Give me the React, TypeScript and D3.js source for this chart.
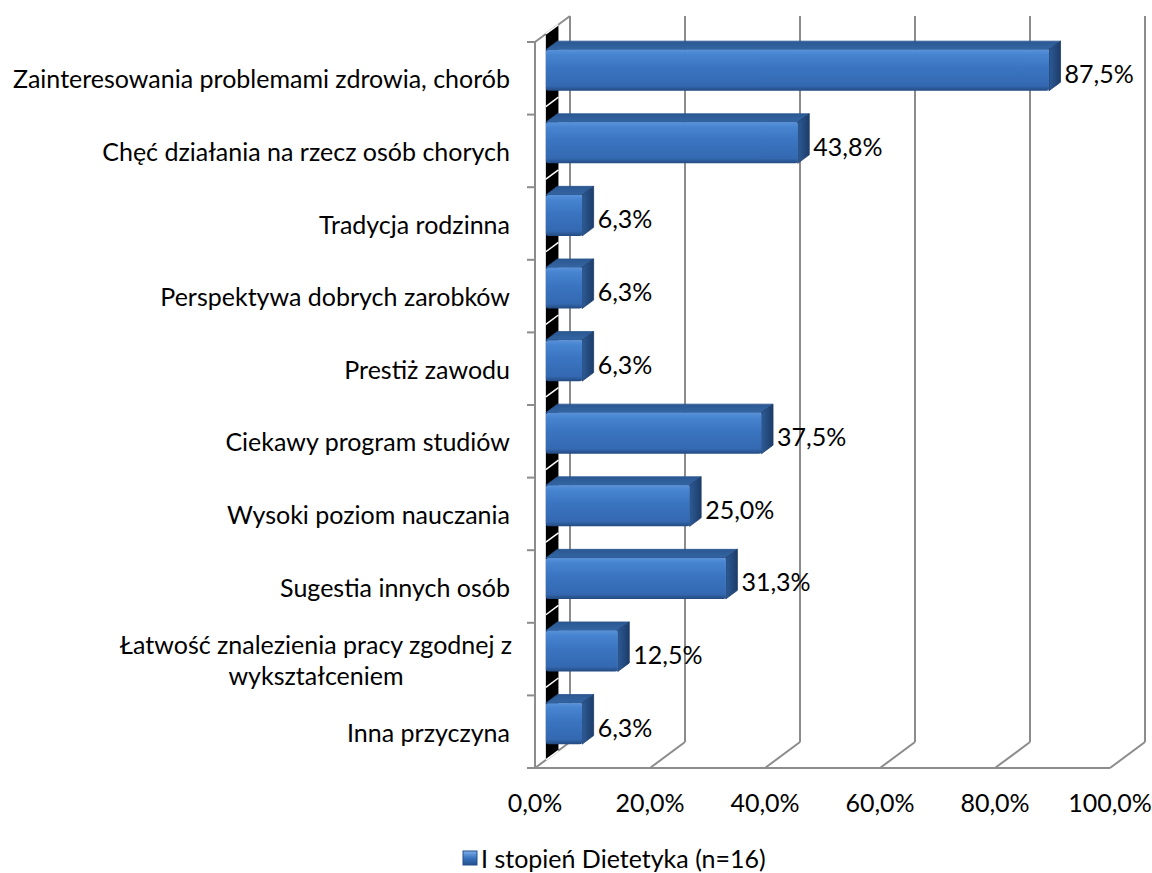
import React from 'react';
import * as d3 from 'd3';

// chart data
const categories = [
  'Zainteresowania problemami zdrowia, chorób',
  'Chęć działania na rzecz osób chorych',
  'Tradycja rodzinna',
  'Perspektywa dobrych zarobków',
  'Prestiż zawodu',
  'Ciekawy program studiów',
  'Wysoki poziom nauczania',
  'Sugestia innych osób',
  'Łatwość znalezienia pracy zgodnej z\nwykształceniem',
  'Inna przyczyna',
];
const values = [87.5, 43.8, 6.3, 6.3, 6.3, 37.5, 25.0, 31.3, 12.5, 6.3];
const xTicks = [0, 20, 40, 60, 80, 100];
const seriesName = 'I stopień Dietetyka (n=16)';

const W = 1152;
const H = 873;
const FONT = 'Lato, "Open Sans", sans-serif';
const FS = 25;

// oblique depth of the 3D box
const DX = 35;
const DY = 26;
const D1 = 0.31; // front of the bar slot
const D2 = 0.64; // back of the bar slot

const fmt = (v: number) => v.toFixed(1).replace('.', ',') + '%';

export default function App() {
  const x = d3.scaleLinear().domain([0, 100]).range([535, 1110]);
  const y = d3.scaleBand<string>().domain(categories).range([42, 768])
    .paddingInner(0.435).paddingOuter(0.2175);
  const step = y.step();
  const top = 42;
  const bottom = 768;
  const x0 = x(0);
  const grid = '#8c8c8c';

  const proj = (px: number, py: number, d: number): [number, number] => [px + DX * d, py - DY * d];
  const poly = (pts: [number, number][]) => pts.map(p => p.join(',')).join(' ');

  return (
    <svg width={W} height={H} style={{ display: 'block', position: 'absolute', left: 0, top: 0 }}>
      <defs>
        <linearGradient id="front" x1="0" y1="0" x2="0" y2="1">
          <stop offset="0" stopColor="#5892d9" />
          <stop offset="0.12" stopColor="#4784d0" />
          <stop offset="0.45" stopColor="#3a74c0" />
          <stop offset="0.88" stopColor="#3469b1" />
          <stop offset="1" stopColor="#234a80" />
        </linearGradient>
        <linearGradient id="topf" x1="0" y1="1" x2="0" y2="0">
          <stop offset="0" stopColor="#3466a3" />
          <stop offset="1" stopColor="#2b5892" />
        </linearGradient>
        <linearGradient id="side" x1="0" y1="0" x2="1" y2="0">
          <stop offset="0" stopColor="#2d5b97" />
          <stop offset="1" stopColor="#1d3c69" />
        </linearGradient>
        <linearGradient id="legendIcon" x1="0" y1="0" x2="0" y2="1">
          <stop offset="0" stopColor="#7fb0ea" />
          <stop offset="0.5" stopColor="#3a74c0" />
          <stop offset="1" stopColor="#24508c" />
        </linearGradient>
      </defs>
      <rect width={W} height={H} fill="#ffffff" />

      {/* back wall gridlines and floor diagonals */}
      {xTicks.map(t => {
        const [bx, by] = proj(x(t), bottom, 1);
        const [tx, ty] = proj(x(t), top, 1);
        return (
          <g key={t}>
            <line x1={bx} y1={by} x2={bx} y2={ty - 0} stroke={grid} strokeWidth={2} />
            <line x1={x(t)} y1={bottom} x2={bx} y2={by} stroke={grid} strokeWidth={2} />
          </g>
        );
      })}
      {/* top-left diagonal of side wall */}
      <line x1={x0} y1={top} x2={proj(x0, top, 1)[0]} y2={proj(x0, top, 1)[1]} stroke={grid} strokeWidth={2} />

      {/* dark strip on the side wall */}
      <polygon
        points={poly([proj(x0, top, D1), proj(x0, top, D2 + 0.03), proj(x0, bottom, D2 + 0.03), proj(x0, bottom, D1)])}
        fill="#000000"
      />
      {d3.range(categories.length + 1).map(i => {
        const yy = top + i * step;
        const a = proj(x0, yy, D1);
        const b = proj(x0, yy, D2 + 0.03);
        return <line key={i} x1={a[0]} y1={a[1]} x2={b[0]} y2={b[1]} stroke="#ffffff" strokeWidth={1.5} />;
      })}

      {/* front axis lines */}
      <line x1={x0} y1={top} x2={x0} y2={bottom} stroke={grid} strokeWidth={2} />
      <line x1={x0 - 8} y1={bottom} x2={x(100)} y2={bottom} stroke={grid} strokeWidth={2} />
      {d3.range(categories.length + 1).map(i => (
        <line key={i} x1={x0 - 8} y1={top + i * step} x2={x0} y2={top + i * step} stroke={grid} strokeWidth={2} />
      ))}

      {/* bars */}
      {categories.map((c, i) => {
        const y0 = y(c)!;
        const y1 = y0 + y.bandwidth();
        const xe = x(values[i]);
        const fTL = proj(x0, y0, D1);
        const fBR = proj(xe, y1, D1);
        const fTR = proj(xe, y0, D1);
        const bTL = proj(x0, y0, D2);
        const bTR = proj(xe, y0, D2);
        const bBR = proj(xe, y1, D2);
        return (
          <g key={c}>
            <polygon points={poly([fTL, bTL, bTR, fTR])} fill="url(#topf)" stroke="#2a5590" strokeWidth={0.8} strokeLinejoin="round" />
            <polygon points={poly([fTR, bTR, bBR, fBR])} fill="url(#side)" stroke="#1d3c69" strokeWidth={0.8} strokeLinejoin="round" />
            <rect x={fTL[0]} y={fTL[1]} width={fBR[0] - fTL[0]} height={fBR[1] - fTL[1]} rx={2.5}
              fill="url(#front)" />
            <text x={bBR[0] + 4} y={(fTL[1] + fBR[1]) / 2 + 3} dominantBaseline="central"
              fontFamily={FONT} fontSize={FS} fill="#000">{fmt(values[i])}</text>
          </g>
        );
      })}

      {/* category labels */}
      {categories.map((c, i) => {
        const lines = c.split('\n');
        const cy = top + step * (i + 0.5);
        const lh = 31;
        if (lines.length === 1) {
          return (
            <text key={c} x={510} y={cy} textAnchor="end" dominantBaseline="central"
              fontFamily={FONT} fontSize={FS} fill="#000">{c}</text>
          );
        }
        return (
          <text key={c} fontFamily={FONT} fontSize={FS} fill="#000" textAnchor="middle" dominantBaseline="central">
            {lines.map((l, k) => (
              <tspan key={k} x={316} y={cy + (k - (lines.length - 1) / 2) * lh}>{l}</tspan>
            ))}
          </text>
        );
      })}

      {/* x axis labels */}
      {xTicks.map(t => (
        <text key={t} x={x(t)} y={802} textAnchor="middle" dominantBaseline="central"
          fontFamily={FONT} fontSize={FS} fill="#000">{fmt(t)}</text>
      ))}

      {/* legend */}
      <rect x={463} y={851} width={14} height={14} fill="url(#legendIcon)" stroke="#24508c" strokeWidth={1} />
      <text x={481} y={858} dominantBaseline="central" fontFamily={FONT} fontSize={FS} fill="#000">{seriesName}</text>
    </svg>
  );
}
